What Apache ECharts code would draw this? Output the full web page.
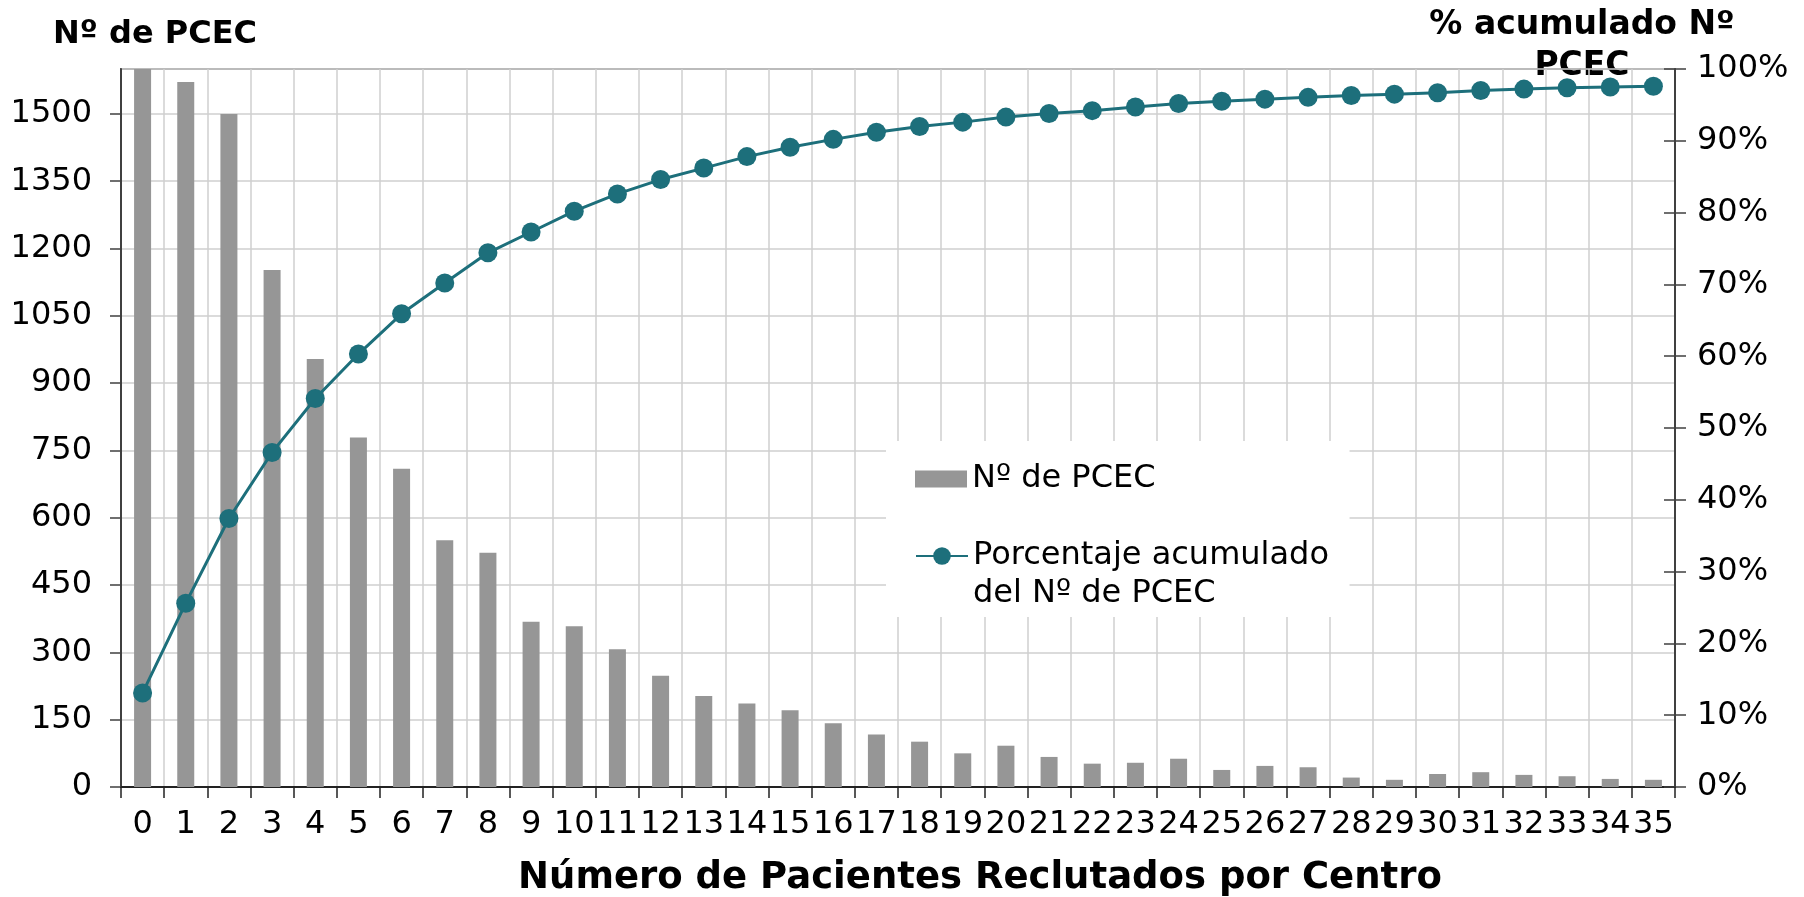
<!DOCTYPE html>
<html>
<head>
<meta charset="utf-8">
<script src="https://cdn.jsdelivr.net/npm/echarts@6/dist/echarts.min.js"></script>
<style>
  html, body { margin: 0; padding: 0; background: #fff; }
  #chart { width: 1804px; height: 897px; }
</style>
</head>
<body>
<div id="chart"></div>
<script>
// categorias: numero de pacientes reclutados por centro
var categories = ["0","1","2","3","4","5","6","7","8","9","10","11","12","13","14","15","16","17",
  "18","19","20","21","22","23","24","25","26","27","28","29","30","31","32","33","34","35"];
// Nº de PCEC (barras)
var pcecCount = [1650,1571,1500,1152,954,779,709,550,522,368,358,307,248,203,186,171,142,117,
  101,75,92,67,52,54,63,38,47,44,21,16,29,33,27,24,18,16];
// porcentaje acumulado (linea)
var cumPercent = [13.1,25.6,37.4,46.6,54.1,60.3,65.9,70.2,74.4,77.3,80.2,82.6,84.6,86.2,87.8,89.1,90.2,91.2,
  92.0,92.6,93.3,93.8,94.2,94.7,95.2,95.5,95.8,96.05,96.3,96.5,96.7,97.0,97.2,97.4,97.5,97.6];
var leftTicks = { min: 0, max: 1600, interval: 150 };
var rightTicks = { min: 0, max: 100, interval: 10 };

var FONT = "DejaVu Sans";
var barName = "Nº de PCEC";
var lineName = "Porcentaje acumulado del Nº de PCEC";

var myChart = echarts.init(document.getElementById("chart"));
var option = {
  animation: false,
  textStyle: { fontFamily: FONT },
  grid: {
    left: 121, right: 129, top: 69, bottom: 110,
    show: true, borderColor: "#7f7f7f", borderWidth: 2, backgroundColor: "transparent"
  },
  legend: [
    {
      // caja blanca + barra
      orient: "vertical",
      left: 886, top: 441,
      padding: [22, 194, 122, 29],
      itemWidth: 52, itemHeight: 17,
      backgroundColor: "#fff",
      textStyle: { fontFamily: FONT, fontSize: 32, color: "#000" },
      data: [{ name: barName, icon: "rect" }]
    },
    {
      orient: "vertical",
      left: 915, top: 540,
      padding: 0,
      itemWidth: 52, itemHeight: 22,
      textStyle: { fontFamily: FONT, fontSize: 32, color: "#000" },
      formatter: function () { return "Porcentaje acumulado"; },
      data: [{ name: lineName }]
    }
  ],
  xAxis: {
    type: "category",
    data: categories,
    boundaryGap: true,
    axisLine: { lineStyle: { color: "#222", width: 2 } },
    axisTick: { show: true, length: 11, lineStyle: { color: "#222", width: 1.5 } },
    axisLabel: { interval: 0, margin: 22, fontSize: 32, color: "#000", fontFamily: FONT },
    splitLine: { show: true, interval: 0, lineStyle: { color: "#cfcfcf", width: 1.5 } }
  },
  yAxis: [
    {
      type: "value",
      min: leftTicks.min, max: leftTicks.max, interval: leftTicks.interval,
      position: "left",
      axisLine: { show: true, lineStyle: { color: "#404040", width: 2 } },
      axisTick: { show: true, length: 11, lineStyle: { color: "#404040", width: 1.5 } },
      axisLabel: {
        showMaxLabel: false, margin: 29, fontSize: 32, color: "#000", fontFamily: FONT,
        formatter: function (v) { return String(v); }
      },
      splitLine: { show: true, lineStyle: { color: "#cfcfcf", width: 1.5 } }
    },
    {
      type: "value",
      min: rightTicks.min, max: rightTicks.max, interval: rightTicks.interval,
      position: "right",
      axisLine: { show: true, lineStyle: { color: "#404040", width: 2 } },
      axisTick: { show: true, length: 11, lineStyle: { color: "#404040", width: 1.5 } },
      axisLabel: { margin: 22, fontSize: 32, color: "#000", fontFamily: FONT, formatter: "{value}%" },
      splitLine: { show: false }
    },
    {
      // mitad interior de las marcas cruzadas del eje derecho
      type: "value",
      min: rightTicks.min, max: rightTicks.max, interval: rightTicks.interval,
      position: "right",
      axisLine: { show: false },
      axisTick: { show: true, inside: true, length: 11, lineStyle: { color: "#404040", width: 1.5 } },
      axisLabel: { show: false },
      splitLine: { show: false }
    }
  ],
  series: [
    {
      name: barName,
      type: "bar",
      yAxisIndex: 0,
      barWidth: 17,
      clip: true,
      itemStyle: { color: "#969696" },
      data: pcecCount
    },
    {
      name: lineName,
      type: "line",
      yAxisIndex: 1,
      symbol: "circle",
      symbolSize: 19,
      lineStyle: { color: "#1d6f7b", width: 3 },
      itemStyle: { color: "#1d6f7b" },
      z: 5,
      data: cumPercent
    }
  ],
  graphic: [
    {
      type: "text", x: 973, y: 594, z: 10,
      style: { text: "del Nº de PCEC", font: "32px 'DejaVu Sans'", fill: "#000", verticalAlign: "middle" }
    },
    {
      type: "text", x: 53, y: 35,
      style: { text: "Nº de PCEC", font: "bold 32px 'DejaVu Sans'", fill: "#000", verticalAlign: "middle" }
    },
    {
      type: "text", x: 1582, y: 46,
      style: { text: "% acumulado Nº\nPCEC", font: "bold 33px 'DejaVu Sans'", fill: "#000",
        align: "center", verticalAlign: "middle", lineHeight: 41 }
    },
    {
      type: "text", x: 980, y: 878,
      style: { text: "Número de Pacientes Reclutados por Centro", font: "bold 37px 'DejaVu Sans'",
        fill: "#000", align: "center", verticalAlign: "middle" }
    }
  ]
};
myChart.setOption(option);
</script>
</body>
</html>
